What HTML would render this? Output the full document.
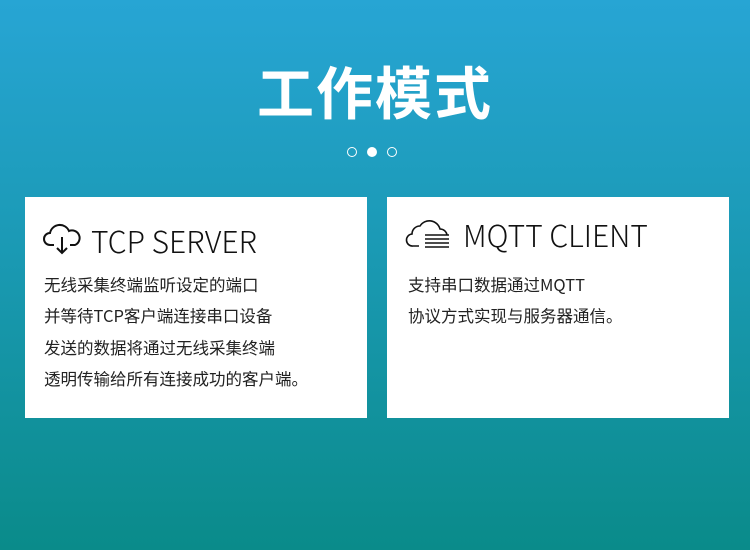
<!DOCTYPE html>
<html><head><meta charset="utf-8"><style>
body{margin:0;width:750px;height:550px;overflow:hidden;background:linear-gradient(180deg,#27a5d4 0%,#1c9bb8 40%,#0a8b8a 100%);font-family:"Liberation Sans","Noto Sans CJK SC",sans-serif;position:relative}
h1{position:absolute;top:54px;left:0;width:750px;text-align:center;margin:0;color:#fff;font:bold 57px/72px "Noto Sans CJK SC",sans-serif;letter-spacing:2px}
.dot{position:absolute;top:147px;width:10px;height:10px;border:1.5px solid #fff;border-radius:50%;box-sizing:border-box}
.card{position:absolute;top:197px;width:342px;height:221px;background:#fff}
.t{position:absolute;font:30px/40px "Noto Sans CJK SC",sans-serif;color:#111;white-space:nowrap}
.p{position:absolute;left:19px;top:72px;font:16.5px/31.3px "Noto Sans CJK SC",sans-serif;color:#222;white-space:nowrap}
</style></head><body>
<h1>工作模式</h1>
<div class="dot" style="left:347px"></div>
<div class="dot" style="left:367px;background:#fff"></div>
<div class="dot" style="left:387px"></div>
<div class="card" style="left:25px">
<svg style="position:absolute;left:17px;top:26px" width="40" height="32" viewBox="0 0 40 32" fill="none" stroke="#111" stroke-width="2"><path d="M12 22H8a6 6 0 0 1 0-12 10 10 0 0 1 19-2 7 7 0 0 1 6 14h-5"/><path d="M20 14v16M15 25l5 5 5-5"/></svg>
<div class="t" style="left:66px;top:23px;font-weight:300">TCP SERVER</div>
<div class="p">无线采集终端监听设定的端口<br>并等待TCP客户端连接串口设备<br>发送的数据将通过无线采集终端<br>透明传输给所有连接成功的客户端。</div>
</div>
<div class="card" style="left:387px">
<svg style="position:absolute;left:18px;top:20px" width="48" height="32" viewBox="0 0 48 32" fill="none" stroke="#111" stroke-width="1.6"><path d="M14 29H8a6 6 0 0 1-1-12 8 8 0 0 1 8-8 11 11 0 0 1 20 3 7 7 0 0 1 7 6"/><path d="M20 18h24M20 22h24M20 26h24M20 30h24"/></svg>
<div class="t" style="left:76px;top:17px;font-weight:300">MQTT CLIENT</div>
<div class="p" style="left:21px">支持串口数据通过MQTT<br>协议方式实现与服务器通信。</div>
</div>
</body></html>
